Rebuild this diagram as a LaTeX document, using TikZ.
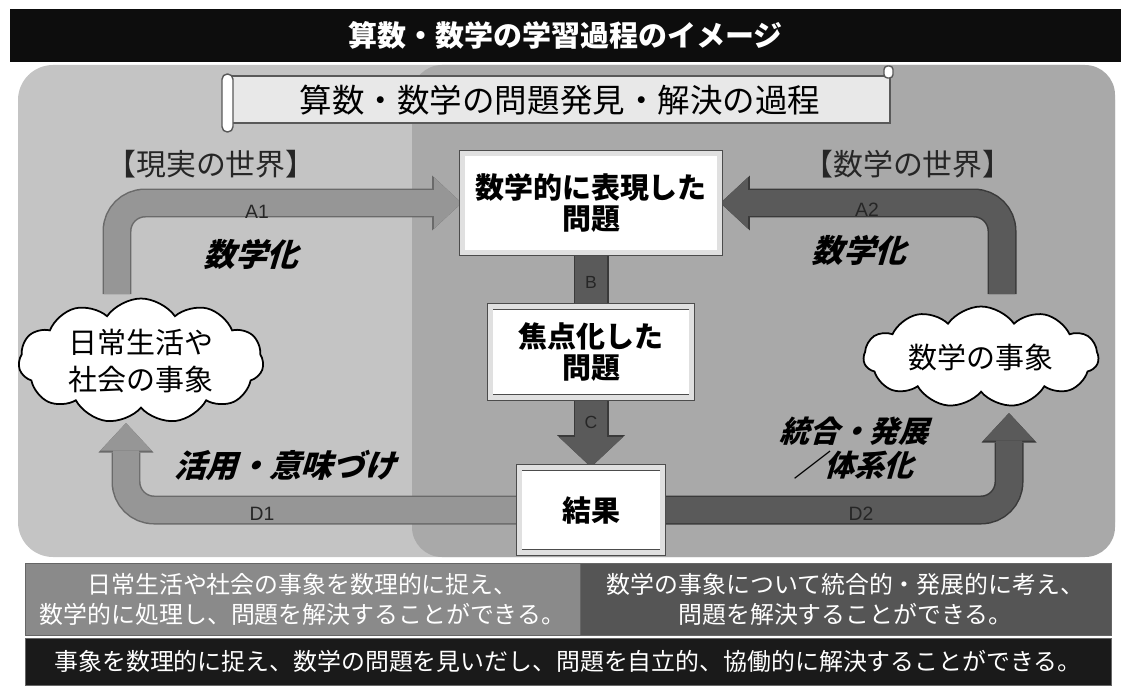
\documentclass[tikz,border=0pt]{standalone}
\usepackage{fontspec}
\setmainfont{Noto Sans CJK JP}
\newfontfamily\slantjp[FakeSlant=0.3]{Noto Sans CJK JP}
\newfontfamily\labfont{Liberation Sans}
\usetikzlibrary{arrows.meta,shapes.symbols}
\pgfdeclarelayer{back}
\pgfdeclarelayer{mid}
\pgfsetlayers{back,mid,main}
\definecolor{panelL}{HTML}{C4C4C4}
\definecolor{panelR}{HTML}{A9A9A9}
\definecolor{armL}{HTML}{969696}
\definecolor{edgeL}{HTML}{6A6A6A}
\definecolor{armD}{HTML}{5A5A5A}
\definecolor{edgeD}{HTML}{3A3A3A}
\definecolor{noteL}{HTML}{8A8A8A}
\definecolor{noteR}{HTML}{555555}
\definecolor{barK}{HTML}{1A1A1A}
\begin{document}
\begin{tikzpicture}[x=0.02cm,y=-0.02cm,
    bevelbox/.style={draw=black!70, line width=0.5pt, double=black!12, double distance=0.1cm,
        fill=white, align=center, inner sep=0pt, font=\fontsize{16.5}{18}\selectfont\bfseries},
    puff/.style={cloud, cloud puffs=11, cloud puff arc=110, cloud ignores aspect, draw=black,
        line width=1pt, fill=white, align=center, inner sep=0pt, font=\fontsize{16.5}{21}\selectfont},
    arm/.style 2 args={draw=#1, line width=0.52cm, rounded corners=0.56cm,
        -{Triangle[width=1.02cm,length=0.55cm,line width=0pt]},
        preaction={draw=#2, line width=0.58cm, -{Triangle[width=1.1cm,length=0.59cm,line width=0pt]}}},
    armtag/.style={font=\labfont\fontsize{11}{12}\selectfont, text=black!85},
    slanttag/.style={font=\slantjp\bfseries\fontsize{18}{22}\selectfont, align=center},
    worldtag/.style={font=\fontsize{17}{20}\selectfont, text=black!85},
    notebox/.style={draw=black!60, text=white, align=center, inner sep=0pt, font=\fontsize{13.6}{17}\selectfont}
]
\useasboundingbox (0,0) rectangle (1121,686);

% panels
\begin{pgfonlayer}{back}
\fill[panelL, rounded corners=0.7cm] (18,65) rectangle (1115,557);
\fill[panelR, rounded corners=0.6cm] (412,65) rectangle (1115,557);
\end{pgfonlayer}

\node[fill=black!95, text=white, minimum width=22.22cm, minimum height=1.06cm, inner sep=0pt,
    font=\fontsize{16.5}{18}\selectfont\bfseries] (title) at (565.5,35.5) {算数・数学の学習過程のイメージ};

% scroll
\draw[draw=black!65, fill=black!9, line width=0.8pt] (230,76) rectangle (890,123);
\draw[draw=black!65, fill=white, line width=0.8pt, rounded corners=3pt] (222,74) rectangle (233,132);
\draw[draw=black!65, fill=white, line width=0.8pt, rounded corners=2pt] (884,66) rectangle (893,78);
\node[font=\fontsize{18.5}{20}\selectfont] (scroll) at (560,100) {算数・数学の問題発見・解決の過程};

\node[worldtag] (realw) at (211,164) {【現実の世界】};
\node[worldtag] (mathw) at (908,164) {【数学の世界】};

\node[bevelbox, minimum width=5.16cm, minimum height=2.0cm] (prob) at (591,203) {数学的に表現した\\問題};
\node[bevelbox, minimum width=4.04cm, minimum height=1.82cm] (focus) at (591,352) {焦点化した\\問題};
\node[bevelbox, minimum width=2.88cm, minimum height=1.7cm] (result) at (591,510) {結果};

\node[puff, minimum width=4.9cm, minimum height=2.5cm] (everyday) at (141,361) {日常生活や\\社会の事象};
\node[puff, minimum width=4.7cm, minimum height=2.02cm] (mathev) at (981,357) {数学の事象};

\coordinate (a1s) at (117,294);
\coordinate (a2s) at (1002,294);
\coordinate (d1e) at (126,423);
\coordinate (d2e) at (1009,413);

\begin{pgfonlayer}{mid}
\draw[arm={armL}{edgeL}] (a1s) |- (prob.west);
\draw[arm={armD}{edgeD}] (a2s) |- (prob.east);
\draw[arm={armL}{edgeL}] (result.west) -| (d1e);
\draw[arm={armD}{edgeD}] (result.east) -| (d2e);
\draw[draw=armD, line width=0.64cm, preaction={draw=edgeD, line width=0.7cm}] (prob.south) -- (focus.north);
\draw[draw=armD, line width=0.64cm, -{Triangle[width=1.28cm,length=0.6cm,line width=0pt]},
    preaction={draw=edgeD, line width=0.7cm, -{Triangle[width=1.36cm,length=0.64cm,line width=0pt]}}]
    (focus.south) -- (result.north);
\end{pgfonlayer}

\node[armtag] (tA1) at (257,212) {A1};
\node[armtag] (tA2) at (867,210) {A2};
\node[armtag] (tD1) at (262,514) {D1};
\node[armtag] (tD2) at (861,514) {D2};
\node[armtag, font=\labfont\fontsize{10}{11}\selectfont] (tB) at (591,282) {B};
\node[armtag, font=\labfont\fontsize{10}{11}\selectfont] (tC) at (591,422) {C};

\node[slanttag] (mz1) at (251,254) {数学化};
\node[slanttag] (mz2) at (859,250) {数学化};
\node[slanttag] (use) at (285,465) {活用・意味づけ};
\node[slanttag, font=\slantjp\bfseries\fontsize{17}{19}\selectfont] (unify) at (854,448) {統合・発展\\／体系化};

\node[notebox, fill=noteL, minimum width=11.1cm, minimum height=1.44cm] (noteL) at (302.5,599)
    {日常生活や社会の事象を数理的に捉え、\\数学的に処理し、問題を解決することができる。};
\node[notebox, fill=noteR, minimum width=10.62cm, minimum height=1.44cm] (noteR) at (845.5,599)
    {数学の事象について統合的・発展的に考え、\\問題を解決することができる。};
\node[notebox, fill=barK, minimum width=21.72cm, minimum height=0.94cm] (goal) at (568,661.5)
    {事象を数理的に捉え、数学の問題を見いだし、問題を自立的、協働的に解決することができる。};
\end{tikzpicture}
\end{document}
